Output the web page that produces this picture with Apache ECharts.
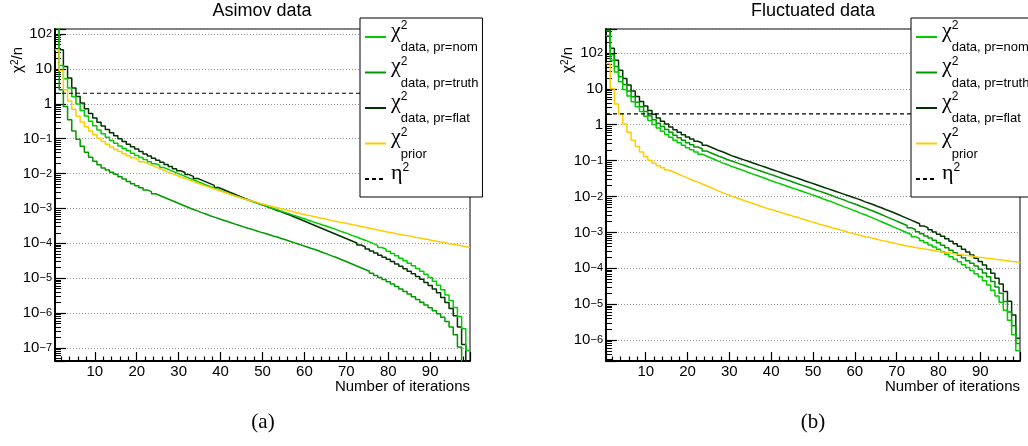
<!DOCTYPE html>
<html><head><meta charset="utf-8">
<script src="https://cdn.jsdelivr.net/npm/echarts@6/dist/echarts.min.js"></script>
<style>html,body{margin:0;padding:0;background:#fff}#c{width:1028px;height:446px}</style>
</head><body><div id="c"></div>
<script>
// ---- data (stored as log10 of chi2/n) ----
const iterations = Array.from({length: 99}, (_, i) => i + 1);
const xTickLabels = [10, 20, 30, 40, 50, 60, 70, 80, 90];
const panelTitles = ['Asimov data', 'Fluctuated data'];
const subCaptions = ['(a)', '(b)'];
const yAxisTitle = 'χ{s|2}/n';
const xAxisTitle = 'Number of iterations';
const eta2 = 2;

const asimovNomLog10 = [2.25,1.10,0.72,0.45,0.20,-0.01,-0.19,-0.35,-0.50,-0.63,
 -0.75,-0.86,-0.96,-1.05,-1.13,-1.21,-1.28,-1.35,-1.42,-1.48,
 -1.54,-1.60,-1.66,-1.72,-1.77,-1.83,-1.88,-1.93,-1.98,-2.03,
 -2.08,-2.13,-2.18,-2.23,-2.28,-2.33,-2.37,-2.42,-2.46,-2.51,
 -2.55,-2.60,-2.64,-2.68,-2.72,-2.76,-2.80,-2.84,-2.88,-2.92,
 -2.96,-3.00,-3.04,-3.08,-3.12,-3.16,-3.20,-3.24,-3.28,-3.32,
 -3.36,-3.40,-3.44,-3.48,-3.52,-3.56,-3.60,-3.65,-3.69,-3.73,
 -3.78,-3.82,-3.87,-3.91,-3.96,-4.01,-4.06,-4.12,-4.17,-4.23,
 -4.29,-4.36,-4.43,-4.50,-4.57,-4.64,-4.72,-4.80,-4.89,-4.98,
 -5.09,-5.20,-5.33,-5.48,-5.64,-5.84,-6.10,-6.45,-7.07];
const asimovTruthLog10 = [2.25,0.40,-0.08,-0.46,-0.78,-1.02,-1.22,-1.39,-1.53,-1.65,
 -1.75,-1.84,-1.90,-1.96,-2.02,-2.09,-2.16,-2.23,-2.29,-2.35,
 -2.41,-2.47,-2.52,-2.58,-2.63,-2.68,-2.73,-2.78,-2.83,-2.88,
 -2.93,-2.98,-3.03,-3.07,-3.12,-3.16,-3.21,-3.25,-3.29,-3.33,
 -3.37,-3.41,-3.45,-3.49,-3.53,-3.57,-3.60,-3.64,-3.68,-3.71,
 -3.75,-3.79,-3.82,-3.86,-3.90,-3.94,-3.98,-4.02,-4.06,-4.10,
 -4.14,-4.18,-4.22,-4.27,-4.31,-4.36,-4.40,-4.45,-4.50,-4.55,
 -4.60,-4.65,-4.70,-4.75,-4.80,-4.86,-4.92,-4.98,-5.04,-5.10,
 -5.17,-5.24,-5.31,-5.38,-5.45,-5.53,-5.61,-5.69,-5.77,-5.85,
 -5.93,-6.02,-6.12,-6.24,-6.40,-6.62,-6.97,-8.50,-8.50];
const asimovFlatLog10 = [2.30,1.55,1.07,0.74,0.45,0.21,0.02,-0.14,-0.28,-0.41,
 -0.53,-0.64,-0.74,-0.83,-0.92,-1.00,-1.08,-1.16,-1.23,-1.30,
 -1.37,-1.44,-1.50,-1.56,-1.62,-1.68,-1.74,-1.80,-1.86,-1.92,
 -1.97,-2.03,-2.08,-2.14,-2.19,-2.24,-2.29,-2.34,-2.40,-2.45,
 -2.50,-2.55,-2.60,-2.65,-2.70,-2.74,-2.79,-2.83,-2.88,-2.92,
 -2.97,-3.01,-3.06,-3.10,-3.15,-3.19,-3.24,-3.29,-3.34,-3.39,
 -3.44,-3.49,-3.54,-3.59,-3.64,-3.69,-3.74,-3.79,-3.84,-3.89,
 -3.94,-3.99,-4.05,-4.10,-4.16,-4.22,-4.28,-4.34,-4.40,-4.46,
 -4.52,-4.59,-4.66,-4.73,-4.80,-4.87,-4.95,-5.03,-5.12,-5.21,
 -5.31,-5.42,-5.55,-5.70,-5.87,-6.08,-6.40,-6.90,-8.50];
const asimovPriorLog10 = [1.55,0.95,0.40,0.08,-0.16,-0.36,-0.52,-0.66,-0.78,-0.89,
 -0.99,-1.08,-1.16,-1.24,-1.31,-1.37,-1.43,-1.49,-1.55,-1.60,
 -1.66,-1.71,-1.76,-1.81,-1.86,-1.91,-1.96,-2.01,-2.05,-2.10,
 -2.14,-2.19,-2.23,-2.27,-2.32,-2.36,-2.40,-2.44,-2.48,-2.52,
 -2.56,-2.60,-2.64,-2.68,-2.72,-2.75,-2.79,-2.82,-2.86,-2.89,
 -2.92,-2.95,-2.98,-3.01,-3.04,-3.07,-3.10,-3.13,-3.16,-3.19,
 -3.21,-3.24,-3.27,-3.29,-3.32,-3.35,-3.37,-3.40,-3.42,-3.44,
 -3.47,-3.49,-3.52,-3.54,-3.57,-3.59,-3.62,-3.64,-3.67,-3.69,
 -3.71,-3.74,-3.76,-3.78,-3.80,-3.83,-3.85,-3.87,-3.89,-3.92,
 -3.94,-3.96,-3.98,-4.01,-4.03,-4.05,-4.07,-4.10,-4.12];

const flucNomLog10 = [2.48,1.80,1.47,1.20,0.98,0.80,0.64,0.50,0.37,0.24,
 0.12,0.01,-0.09,-0.18,-0.27,-0.35,-0.43,-0.50,-0.57,-0.64,
 -0.70,-0.76,-0.82,-0.87,-0.92,-0.97,-1.02,-1.07,-1.11,-1.16,
 -1.20,-1.24,-1.28,-1.33,-1.37,-1.41,-1.45,-1.49,-1.54,-1.58,
 -1.62,-1.66,-1.70,-1.74,-1.78,-1.82,-1.86,-1.90,-1.94,-1.98,
 -2.02,-2.07,-2.11,-2.15,-2.20,-2.24,-2.29,-2.33,-2.38,-2.42,
 -2.47,-2.51,-2.56,-2.61,-2.66,-2.71,-2.76,-2.81,-2.86,-2.91,
 -2.96,-3.01,-3.06,-3.12,-3.17,-3.23,-3.29,-3.35,-3.41,-3.47,
 -3.54,-3.61,-3.68,-3.75,-3.82,-3.90,-3.98,-4.06,-4.15,-4.24,
 -4.35,-4.47,-4.61,-4.77,-4.95,-5.17,-5.45,-5.85,-6.30];
const flucTruthLog10 = [2.62,1.95,1.62,1.34,1.12,0.94,0.78,0.63,0.50,0.37,
 0.25,0.14,0.04,-0.05,-0.13,-0.21,-0.29,-0.36,-0.43,-0.50,
 -0.56,-0.62,-0.67,-0.73,-0.78,-0.83,-0.88,-0.92,-0.97,-1.01,
 -1.05,-1.09,-1.13,-1.17,-1.21,-1.25,-1.29,-1.33,-1.37,-1.41,
 -1.45,-1.49,-1.53,-1.57,-1.61,-1.65,-1.69,-1.73,-1.77,-1.81,
 -1.85,-1.89,-1.93,-1.97,-2.02,-2.06,-2.10,-2.15,-2.19,-2.23,
 -2.28,-2.32,-2.37,-2.41,-2.46,-2.51,-2.56,-2.61,-2.66,-2.71,
 -2.76,-2.81,-2.87,-2.92,-2.98,-3.04,-3.10,-3.16,-3.22,-3.29,
 -3.36,-3.43,-3.50,-3.57,-3.64,-3.71,-3.79,-3.86,-3.94,-4.03,
 -4.13,-4.24,-4.37,-4.52,-4.70,-4.93,-5.22,-5.60,-6.10];
const flucFlatLog10 = [2.90,2.13,1.80,1.52,1.29,1.11,0.94,0.79,0.65,0.52,
 0.40,0.29,0.19,0.10,0.02,-0.06,-0.14,-0.21,-0.28,-0.34,
 -0.40,-0.46,-0.51,-0.57,-0.62,-0.67,-0.72,-0.76,-0.81,-0.86,
 -0.90,-0.94,-0.98,-1.02,-1.06,-1.10,-1.14,-1.18,-1.22,-1.26,
 -1.30,-1.34,-1.38,-1.42,-1.46,-1.50,-1.54,-1.58,-1.62,-1.66,
 -1.70,-1.74,-1.78,-1.82,-1.86,-1.90,-1.94,-1.98,-2.02,-2.06,
 -2.10,-2.15,-2.19,-2.23,-2.28,-2.32,-2.37,-2.41,-2.46,-2.51,
 -2.56,-2.61,-2.66,-2.71,-2.76,-2.82,-2.87,-2.93,-2.99,-3.05,
 -3.11,-3.18,-3.25,-3.32,-3.39,-3.47,-3.55,-3.63,-3.72,-3.81,
 -3.91,-4.02,-4.14,-4.28,-4.44,-4.65,-4.92,-5.30,-5.95];
const flucPriorLog10 = [1.71,1.00,0.58,0.30,0.02,-0.21,-0.43,-0.61,-0.76,-0.89,
 -0.99,-1.07,-1.14,-1.20,-1.26,-1.31,-1.36,-1.41,-1.46,-1.51,
 -1.56,-1.60,-1.65,-1.70,-1.75,-1.80,-1.85,-1.90,-1.94,-1.99,
 -2.03,-2.07,-2.11,-2.15,-2.19,-2.23,-2.27,-2.31,-2.35,-2.38,
 -2.42,-2.45,-2.49,-2.52,-2.56,-2.59,-2.63,-2.66,-2.70,-2.73,
 -2.77,-2.80,-2.83,-2.87,-2.90,-2.93,-2.96,-3.00,-3.03,-3.06,
 -3.09,-3.12,-3.14,-3.17,-3.20,-3.23,-3.25,-3.28,-3.30,-3.33,
 -3.35,-3.38,-3.40,-3.42,-3.44,-3.46,-3.48,-3.50,-3.52,-3.54,
 -3.56,-3.57,-3.59,-3.61,-3.62,-3.64,-3.65,-3.67,-3.69,-3.70,
 -3.72,-3.73,-3.75,-3.76,-3.78,-3.79,-3.81,-3.82,-3.84];

// ---- styling ----
const COLORS = {nom: '#00cc00', truth: '#009900', flat: '#003300', prior: '#ffcc00', eta: '#000000'};
const FONT = 'Liberation Sans';

const legendLabels = {
  nom: '{c|χ}{p|2}{s|data, pr=nom}',
  truth: '{c|χ}{p|2}{s|data, pr=truth}',
  flat: '{c|χ}{p|2}{s|data, pr=flat}',
  prior: '{c|χ}{p|2}{s|prior}',
  eta: '{c|η}{q|2}{s| }'
};
const legendRich = {
  c: {fontFamily: 'Liberation Serif', fontSize: 22, lineHeight: 34, verticalAlign: 'top', color: '#000'},
  p: {fontFamily: FONT, fontSize: 12, lineHeight: 30, verticalAlign: 'top', width: 0, color: '#000'},
  q: {fontFamily: FONT, fontSize: 12, lineHeight: 30, verticalAlign: 'top', color: '#000'},
  s: {fontFamily: FONT, fontSize: 13, lineHeight: 14, padding: [22, 0, 0, 0], verticalAlign: 'bottom', color: '#000'}
};

function hist(name, logs, gi) {
  const data = logs.map((lv, k) => [iterations[k] - 0.5, Math.pow(10, lv)]);
  data.push([iterations[iterations.length - 1] + 0.5, Math.pow(10, logs[logs.length - 1])]);
  return {
    name, type: 'line', step: 'end', xAxisIndex: gi, yAxisIndex: gi, data,
    symbol: 'none', clip: true, animation: false,
    lineStyle: {color: COLORS[name], width: 1.5}, itemStyle: {color: COLORS[name]}
  };
}
function etaLine(gi) {
  return {
    name: 'eta', type: 'line', xAxisIndex: gi, yAxisIndex: gi, symbol: 'none', clip: true, animation: false,
    data: [[iterations[0] - 0.5, eta2], [iterations[iterations.length - 1] + 0.5, eta2]],
    lineStyle: {color: '#000', width: 1.2, type: [4, 3]}, itemStyle: {color: '#000'}
  };
}
function yFmt(v) {
  const e = Math.log10(v), r = Math.round(e);
  if (Math.abs(e - r) > 1e-6) return '';
  if (r === 0) return '{b|1}';
  if (r === 1) return '{b|10}';
  return '{b|10}{s|' + (r < 0 ? '\u2212' + (-r) : String(r)) + '}';
}
function xAx(gi) {
  return {
    type: 'value', gridIndex: gi, min: 0.5, max: 99.5, splitNumber: 10,
    name: xAxisTitle, nameLocation: 'end', nameGap: 0,
    nameTextStyle: {align: 'right', verticalAlign: 'top', padding: [18, 0, 0, 0], fontSize: 15, color: '#000', fontFamily: FONT},
    axisLine: {show: true, onZero: false, lineStyle: {color: '#000', width: 2}},
    axisTick: {show: true, inside: true, length: 9, lineStyle: {color: '#000', width: 1.2}},
    minorTick: {show: true, splitNumber: 5, length: 4.5, lineStyle: {color: '#000', width: 1.2}},
    axisLabel: {show: true, formatter: v => xTickLabels.includes(v) ? String(v) : '', showMinLabel: false, showMaxLabel: false,
      margin: 3, color: '#000', fontSize: 15, fontFamily: FONT},
    splitLine: {show: false}
  };
}
function yAx(gi, min, max) {
  return {
    type: 'log', logBase: 10, gridIndex: gi, min, max, splitNumber: 10,
    axisLine: {show: true, lineStyle: {color: '#000', width: 2}},
    axisTick: {show: true, inside: true, length: 11, lineStyle: {color: '#000', width: 1.2}},
    minorTick: {show: true, splitNumber: 9, length: 6, lineStyle: {color: '#000', width: 1}},
    axisLabel: {show: true, formatter: yFmt, margin: 3, color: '#000', showMinLabel: false, showMaxLabel: false,
      rich: {
        b: {fontSize: 15, fontFamily: FONT, color: '#000', padding: [6, 0, 0, 0], lineHeight: 15, verticalAlign: 'bottom'},
        s: {fontSize: 11, fontFamily: FONT, color: '#000', lineHeight: 11, verticalAlign: 'middle'}
      }},
    splitLine: {show: true, lineStyle: {color: '#999', type: [1, 2], width: 1}}
  };
}
function legendCfg(left) {
  return {
    left, top: 18, orient: 'vertical', selectedMode: false,
    data: ['nom', 'truth', 'flat', 'prior', 'eta'],
    itemWidth: 21, itemHeight: 10, itemGap: 0.5, padding: [1, 4, 1, 4],
    itemStyle: {opacity: 0},
    backgroundColor: '#fff', borderColor: '#000', borderWidth: 1, borderRadius: 0,
    formatter: n => legendLabels[n],
    textStyle: {color: '#000', rich: legendRich}
  };
}
function yTitle(x) {
  return {
    type: 'text', x, y: 60, rotation: Math.PI / 2, z: 10,
    style: {text: yAxisTitle, fill: '#000', fontSize: 15, fontFamily: FONT, align: 'center', verticalAlign: 'middle',
      rich: {s: {fontSize: 10, fontFamily: FONT, fill: '#000', verticalAlign: 'top', lineHeight: 10}}}
  };
}
const titleStyle = {fontSize: 18, fontWeight: 'normal', fontFamily: FONT, color: '#000'};
const capStyle = {fontSize: 21, fontWeight: 'normal', fontFamily: 'Liberation Serif', color: '#000'};

const option = {
  backgroundColor: '#fff',
  animation: false,
  textStyle: {fontFamily: FONT},
  title: [
    {text: panelTitles[0], left: 262, top: 2, textAlign: 'center', padding: 0, textStyle: titleStyle},
    {text: panelTitles[1], left: 813, top: 2, textAlign: 'center', padding: 0, textStyle: titleStyle},
    {text: subCaptions[0], left: 263, top: 412, textAlign: 'center', padding: 0, textStyle: capStyle},
    {text: subCaptions[1], left: 813, top: 412, textAlign: 'center', padding: 0, textStyle: capStyle}
  ],
  graphic: [yTitle(18), yTitle(568)],
  grid: [
    {left: 55, top: 29, width: 415, height: 332, show: true, borderColor: '#000', borderWidth: 1, backgroundColor: 'transparent', containLabel: false},
    {left: 606, top: 29, width: 414, height: 332, show: true, borderColor: '#000', borderWidth: 1, backgroundColor: 'transparent', containLabel: false}
  ],
  xAxis: [xAx(0), xAx(1)],
  yAxis: [yAx(0, 4.23e-8, 139), yAx(1, 2.6e-7, 466)],
  legend: [legendCfg(360), legendCfg(911)],
  series: [
    hist('flat', asimovFlatLog10, 0), hist('truth', asimovTruthLog10, 0), hist('nom', asimovNomLog10, 0),
    hist('prior', asimovPriorLog10, 0), etaLine(0),
    hist('flat', flucFlatLog10, 1), hist('truth', flucTruthLog10, 1), hist('nom', flucNomLog10, 1),
    hist('prior', flucPriorLog10, 1), etaLine(1)
  ]
};
const chart = echarts.init(document.getElementById('c'), null, {renderer: 'canvas'});
chart.setOption(option);
</script>
</body></html>
